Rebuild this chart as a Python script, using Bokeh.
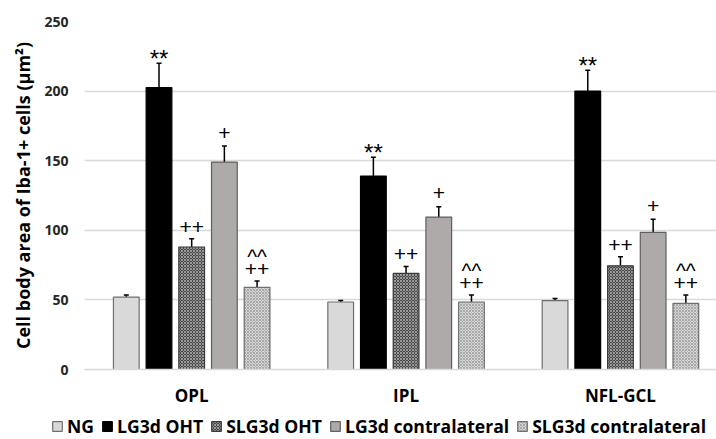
from bokeh.plotting import figure
from bokeh.layouts import column
from bokeh.models import ColumnDataSource, Whisker, TeeHead, Legend, LegendItem, FixedTicker, Range1d
from bokeh.core.properties import value
from bokeh.embed import file_html
from bokeh.resources import INLINE

groups = ["OPL", "IPL", "NFL-GCL"]
series = ["NG", "LG3d OHT", "SLG3d OHT", "LG3d contralateral", "SLG3d contralateral"]
means = {
    "NG": [52, 48.5, 49.5],
    "LG3d OHT": [202.5, 139, 200],
    "SLG3d OHT": [88, 69, 74.5],
    "LG3d contralateral": [149, 109.5, 98.5],
    "SLG3d contralateral": [59, 48.5, 47.5],
}
errors = {
    "NG": [1.5, 1, 1.5],
    "LG3d OHT": [17.5, 13.5, 15],
    "SLG3d OHT": [6, 5, 6.5],
    "LG3d contralateral": [11.5, 7.5, 9.5],
    "SLG3d contralateral": [4.5, 5, 6],
}
marks = {
    "NG": [],
    "LG3d OHT": ["**"],
    "SLG3d OHT": ["++"],
    "LG3d contralateral": ["+"],
    "SLG3d contralateral": ["++", "^^"],
}
y_ticks = [0, 50, 100, 150, 200, 250]

styles = {
    "NG": dict(fill_color="#d9d9d9", line_color="#6f6f6f"),
    "LG3d OHT": dict(fill_color="#000000", line_color="#000000"),
    "SLG3d OHT": dict(fill_color="#474747", line_color="#3a3a3a", hatch_pattern="diagonal_cross",
                      hatch_color="#9a9a9a", hatch_scale=3, hatch_weight=1),
    "LG3d contralateral": dict(fill_color="#aeaaaa", line_color="#5f5f5f"),
    "SLG3d contralateral": dict(fill_color="#d6d6d6", line_color="#6f6f6f", hatch_pattern="diagonal_cross",
                                hatch_color="#a8a8a8", hatch_scale=3, hatch_weight=1),
}
# (vertical pixel offset, negative = upwards, font size) of each mark above the error-bar cap
mark_style = {"**": (-5, "24px"), "++": (-12, "21px"), "+": (-13.5, "21px"), "^^": (-25, "21px")}

FONT = "Open Sans"
p = figure(width=716, height=412, output_backend="svg", toolbar_location=None,
           x_range=Range1d(-0.5, 2.448), y_range=Range1d(0, 250),
           min_border_left=84, min_border_right=0, min_border_top=21, min_border_bottom=43)
p.frame_align = False
p.outline_line_color = None
p.background_fill_color = "white"
p.xgrid.grid_line_color = None
p.ygrid.grid_line_color = "#d9d9d9"
p.ygrid.grid_line_width = 1.3

p.yaxis.ticker = FixedTicker(ticks=y_ticks)
p.yaxis.axis_line_color = None
p.yaxis.major_tick_line_color = None
p.yaxis.minor_tick_line_color = None
p.yaxis.major_label_text_font = FONT
p.yaxis.major_label_text_font_style = "bold"
p.yaxis.major_label_text_font_size = "14px"
p.yaxis.major_label_text_color = "#262626"
p.yaxis.major_label_standoff = 10
p.yaxis.axis_label = "Cell body area of Iba-1+ cells (µm²)"
p.yaxis.axis_label_text_font = FONT
p.yaxis.axis_label_text_font_style = "bold"
p.yaxis.axis_label_text_font_size = "18px"
p.yaxis.axis_label_text_color = "#000000"
p.yaxis.axis_label_standoff = 6

p.xaxis.ticker = FixedTicker(ticks=list(range(len(groups))))
p.xaxis.major_label_overrides = {i: g for i, g in enumerate(groups)}
p.xaxis.axis_line_color = "#d9d9d9"
p.xaxis.axis_line_width = 1.3
p.xaxis.major_tick_line_color = None
p.xaxis.minor_tick_line_color = None
p.xaxis.major_label_text_font = FONT
p.xaxis.major_label_text_font_style = "bold"
p.xaxis.major_label_text_font_size = "17px"
p.xaxis.major_label_text_color = "#000000"
p.xaxis.major_label_standoff = 8

# legend strip
lg = figure(width=716, height=27, output_backend="svg", toolbar_location=None,
            x_range=Range1d(0, 1), y_range=Range1d(0, 1), x_axis_type=None, y_axis_type=None,
            min_border_left=0, min_border_right=0, min_border_top=0, min_border_bottom=0)
lg.frame_align = False
lg.outline_line_color = None
lg.grid.visible = False

step = 0.1525
width = 0.12
items = []
for k, s in enumerate(series):
    off = (k - 2) * step
    xs = [i + off for i in range(len(groups))]
    tops = [m + e for m, e in zip(means[s], errors[s])]
    src = ColumnDataSource(dict(x=xs, top=means[s], upper=tops))
    p.vbar(x="x", top="top", width=width, source=src, line_width=1.2, **styles[s])
    w = Whisker(base="x", lower="top", upper="upper", source=src, dimension="height",
                line_color="black", line_width=1.5,
                upper_head=TeeHead(size=5, line_color="black", line_width=1.5), lower_head=None)
    p.add_layout(w)
    for mk in marks[s]:
        yo, fs = mark_style[mk]
        p.text(x=xs, y=tops, text=[mk] * len(xs), text_align="center", text_baseline="alphabetic",
               y_offset=yo, text_font=value("Liberation Sans"), text_font_size=fs, text_color="black")
    lr = lg.vbar(x=[-10], top=[-10], width=0.1, line_width=1.2, **styles[s])
    items.append(LegendItem(label=s, renderers=[lr]))

legend = Legend(items=items, orientation="horizontal", location=(51, 1),
                glyph_width=12, glyph_height=12, label_standoff=4, spacing=7, padding=0, margin=0,
                border_line_color=None, background_fill_alpha=0,
                label_text_font=FONT, label_text_font_style="bold", label_text_font_size="17.6px",
                label_text_color="#000000", label_height=16)
lg.add_layout(legend, "center")

layout = column(p, lg, spacing=0)
open("out.html", "w").write(file_html(layout, INLINE))
